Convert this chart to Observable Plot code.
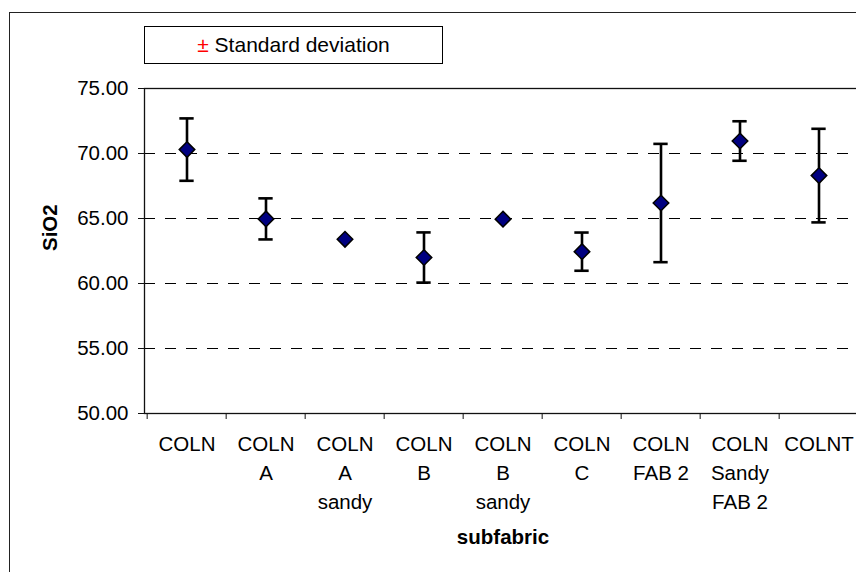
<!DOCTYPE html>
<html>
<head>
<meta charset="utf-8">
<script src="https://cdn.jsdelivr.net/npm/d3@7"></script>
<script src="https://cdn.jsdelivr.net/npm/@observablehq/plot@0.6"></script>
<style>
  html, body { margin: 0; padding: 0; background: #fff; overflow: hidden; width: 856px; height: 572px; }
  #wrap { position: relative; width: 856px; height: 572px; overflow: hidden; font-family: "Liberation Sans", Arial, sans-serif; }
  #outer { position: absolute; left: 9px; top: 12px; width: 900px; height: 620px; border: 1.5px solid #222; box-sizing: border-box; }
  #legend { position: absolute; left: 144px; top: 26px; width: 299px; height: 38px; border: 1.5px solid #000; box-sizing: border-box;
            font-size: 21px; line-height: 35px; text-align: center; color: #000; background: #fff; z-index: 2; }
  #legend .pm { color: #ff0000; }
  #chart { position: absolute; left: 0; top: 0; z-index: 1; width: 866px; }
  #chart svg { max-width: none !important; }
</style>
</head>
<body>
<div id="wrap">
  <div id="outer"></div>
  <div id="chart"></div>
  <div id="legend"><span class="pm">±</span> Standard deviation</div>
</div>
<script>
// ---- data ----
const categories = ["COLN", "COLN A", "COLN A sandy", "COLN B", "COLN B sandy", "COLN C", "COLN FAB 2", "COLN Sandy FAB 2", "COLNT"];
const tickLabels = ["COLN", "COLN\nA", "COLN\nA\nsandy", "COLN\nB", "COLN\nB\nsandy", "COLN\nC", "COLN\nFAB 2", "COLN\nSandy\nFAB 2", "COLNT"];
const means = [70.3, 64.97, 63.4, 62.0, 64.95, 62.45, 66.19, 70.96, 68.3];
const stdevs = [2.4, 1.58, 0, 1.93, 0, 1.47, 4.55, 1.52, 3.6];
const yTicks = [50, 55, 60, 65, 70, 75];
const gridValues = [55, 60, 65, 70];
const yLabel = "SiO2";
const xLabel = "subfabric";

// ---- layout ----
const W = 866, H = 572;
const mL = 144, mR = 5, mT = 88, mB = 159;
const bw = (W - mL - mR) / categories.length;

const rows = categories.map((c, i) => ({cat: c, mean: means[i], sd: stdevs[i]}));
const errRows = rows.filter(d => d.sd > 0);
const capInset = (bw - 15) / 2;

const chart = Plot.plot({
  width: W,
  height: H,
  marginLeft: mL,
  marginRight: mR,
  marginTop: mT,
  marginBottom: mB,
  style: {fontFamily: "'Liberation Sans', Arial, sans-serif", fontSize: "20.5px", background: "transparent", color: "#000", maxWidth: "none"},
  x: {domain: categories, padding: 0, label: null},
  y: {domain: [50, 75], label: null},
  marks: [
    Plot.ruleY(gridValues, {stroke: "#000", strokeWidth: 1, strokeDasharray: "11,10"}),
    Plot.frame({stroke: "#111", strokeWidth: 1.3}),
    Plot.axisY({ticks: yTicks, tickFormat: d => d.toFixed(2), tickSize: 6, tickPadding: 10, label: null, stroke: "#111"}),
    Plot.axisX({tickSize: 0, tickPadding: 17, lineHeight: 1.42, tickFormat: d => tickLabels[categories.indexOf(d)], label: null}),
    Plot.axisX({tickSize: 6, tickFormat: () => "", dx: -bw / 2, label: null, stroke: "#111"}),
    Plot.ruleX(errRows, {x: "cat", y1: d => d.mean - d.sd, y2: d => d.mean + d.sd, stroke: "#000", strokeWidth: 2.6}),
    Plot.tickY(errRows, {x: "cat", y: d => d.mean + d.sd, insetLeft: capInset, insetRight: capInset, stroke: "#000", strokeWidth: 2.6}),
    Plot.tickY(errRows, {x: "cat", y: d => d.mean - d.sd, insetLeft: capInset, insetRight: capInset, stroke: "#000", strokeWidth: 2.6}),
    Plot.dot(rows, {x: "cat", y: "mean", symbol: "diamond2", r: 7, fill: "#000080", stroke: "#000", strokeWidth: 1.5}),
    Plot.text([yLabel], {text: d => d, frameAnchor: "left", dx: -94, rotate: -90, fontWeight: "bold", fontSize: 20.5}),
    Plot.text([xLabel], {text: d => d, frameAnchor: "bottom", dy: 130, fontWeight: "bold", fontSize: 20.5})
  ]
});
document.getElementById("chart").appendChild(chart);
</script>
</body>
</html>
